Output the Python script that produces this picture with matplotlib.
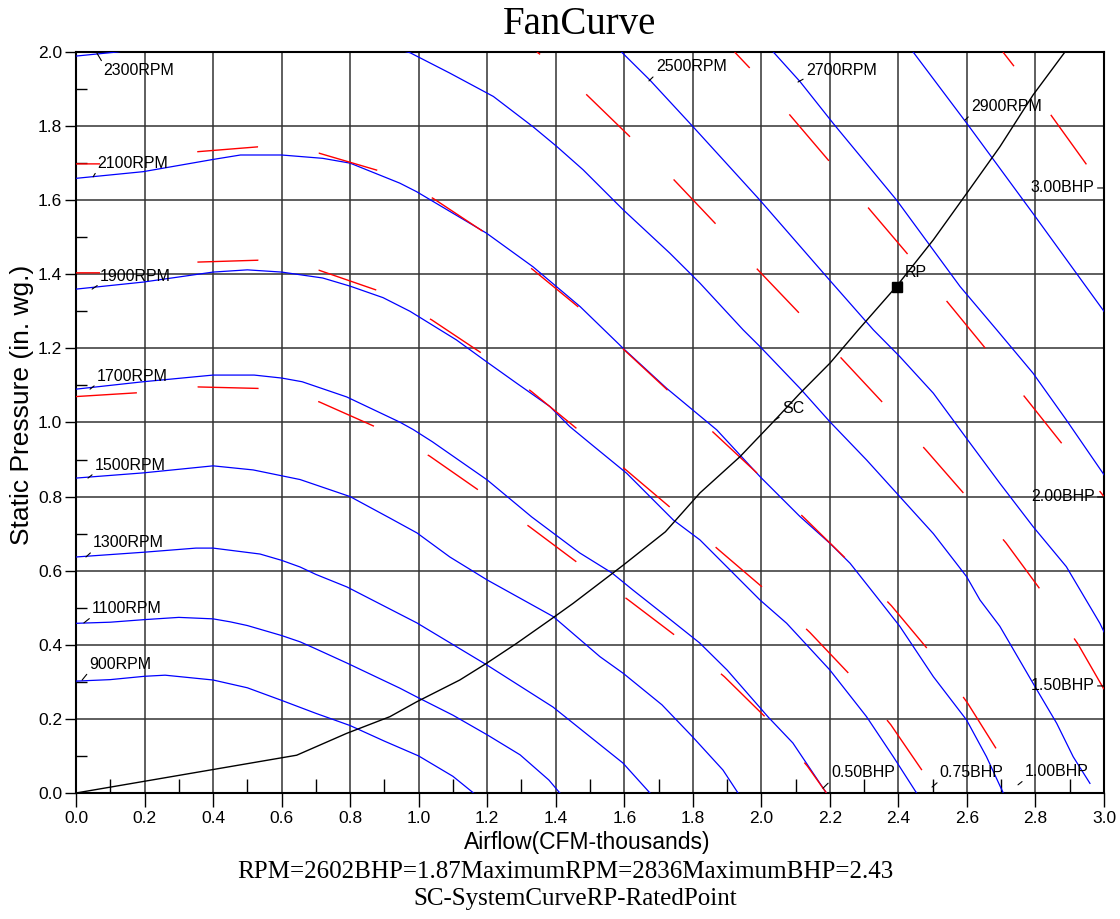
import numpy as np
import matplotlib
matplotlib.use("Agg")
import matplotlib.pyplot as plt

# ---------------- data ----------------
x_ticks = [0.0, 0.2, 0.4, 0.6, 0.8, 1.0, 1.2, 1.4, 1.6, 1.8, 2.0, 2.2, 2.4, 2.6, 2.8, 3.0]
x_tick_labels = ["0.0", "0.2", "0.4", "0.6", "0.8", "1.0", "1.2", "1.4", "1.6", "1.8",
                 "2.0", "2.2", "2.4", "2.6", "2.8", "3.0"]
x_minor = [0.1, 0.3, 0.5, 0.7, 0.9, 1.1, 1.3, 1.5, 1.7, 1.9, 2.1, 2.3, 2.5, 2.7, 2.9]
y_ticks = [0.0, 0.2, 0.4, 0.6, 0.8, 1.0, 1.2, 1.4, 1.6, 1.8, 2.0]
y_tick_labels = ["0.0", "0.2", "0.4", "0.6", "0.8", "1.0", "1.2", "1.4", "1.6", "1.8", "2.0"]
y_minor = [0.1, 0.3, 0.5, 0.7, 0.9, 1.1, 1.3, 1.5, 1.7, 1.9]

# fan curves (airflow, static pressure)
rpm900_x = [0, 0.1, 0.2, 0.26, 0.4, 0.5, 0.6, 0.7, 0.8, 0.9, 1.0, 1.1, 1.16]
rpm900_y = [0.302, 0.306, 0.315, 0.318, 0.305, 0.284, 0.250, 0.215, 0.182, 0.140, 0.100, 0.045, 0.0]

rpm1100_x = [0, 0.1, 0.2, 0.3, 0.4, 0.45, 0.5, 0.6, 0.654, 0.7, 0.79, 0.945, 0.995, 1.1, 1.2, 1.296, 1.38, 1.412]
rpm1100_y = [0.458, 0.461, 0.468, 0.474, 0.470, 0.462, 0.452, 0.425, 0.408, 0.389, 0.351, 0.283, 0.259, 0.21,
             0.157, 0.103, 0.035, 0.0]

rpm1300_x = [0, 0.2, 0.35, 0.4, 0.537, 0.6, 0.654, 0.7, 0.791, 0.995, 1.2, 1.392, 1.5, 1.596, 1.675]
rpm1300_y = [0.637, 0.650, 0.661, 0.661, 0.645, 0.628, 0.610, 0.590, 0.556, 0.459, 0.345, 0.232, 0.152, 0.081, 0.0]

rpm1500_x = [0, 0.196, 0.4, 0.517, 0.654, 0.8, 0.916, 0.995, 1.091, 1.2, 1.393, 1.529, 1.597, 1.71, 1.8, 1.888, 1.932]
rpm1500_y = [0.850, 0.864, 0.883, 0.872, 0.846, 0.800, 0.742, 0.702, 0.637, 0.575, 0.476, 0.368, 0.323, 0.238,
             0.151, 0.062, 0.0]

rpm1700_x = [0, 0.196, 0.4, 0.52, 0.6, 0.66, 0.79, 0.945, 0.984, 1.04, 1.2, 1.33, 1.47, 1.564, 1.625, 1.725,
             1.82, 1.9, 2.02, 2.092, 2.19]
rpm1700_y = [1.090, 1.110, 1.128, 1.128, 1.120, 1.110, 1.069, 1.001, 0.981, 0.948, 0.845, 0.745, 0.648, 0.594,
             0.548, 0.475, 0.405, 0.332, 0.205, 0.135, 0.0]

rpm1900_x = [0, 0.196, 0.4, 0.5, 0.6, 0.72, 0.8, 0.896, 0.975, 1.11, 1.198, 1.286, 1.383, 1.441, 1.5, 1.607,
             1.743, 1.821, 1.996, 2.074, 2.2, 2.307, 2.385, 2.453]
rpm1900_y = [1.360, 1.379, 1.406, 1.412, 1.406, 1.390, 1.368, 1.337, 1.300, 1.223, 1.164, 1.106, 1.043, 0.989,
             0.944, 0.863, 0.737, 0.683, 0.521, 0.458, 0.332, 0.206, 0.098, 0.0]

rpm2100_x = [0, 0.196, 0.4, 0.48, 0.6, 0.72, 0.8, 0.945, 0.994, 1.198, 1.334, 1.471, 1.597, 1.724, 1.87, 1.996,
             2.113, 2.2, 2.259, 2.336, 2.404, 2.502, 2.599, 2.657, 2.706]
rpm2100_y = [1.659, 1.677, 1.710, 1.722, 1.722, 1.713, 1.700, 1.646, 1.623, 1.511, 1.420, 1.313, 1.200, 1.092,
             0.980, 0.854, 0.746, 0.674, 0.620, 0.530, 0.450, 0.314, 0.197, 0.098, 0.0]

rpm2300_x = [0, 0.12, 0.3, 0.55, 0.8, 0.975, 1.091, 1.218, 1.334, 1.403, 1.48, 1.597, 1.733, 1.821, 1.947, 1.996,
             2.113, 2.2, 2.307, 2.404, 2.502, 2.599, 2.638, 2.696, 2.725, 2.793, 2.862, 2.91, 2.959]
rpm2300_y = [1.989, 2.0, 2.03, 2.065, 2.04, 1.998, 1.943, 1.880, 1.798, 1.745, 1.682, 1.574, 1.457, 1.376, 1.250,
             1.205, 1.092, 1.002, 0.899, 0.800, 0.700, 0.584, 0.521, 0.450, 0.404, 0.296, 0.188, 0.098, 0.026]

rpm2500_x = [1.592, 1.675, 1.801, 1.996, 2.19, 2.327, 2.404, 2.502, 2.599, 2.696, 2.793, 2.89, 2.988, 3.0]
rpm2500_y = [2.0, 1.924, 1.798, 1.600, 1.394, 1.250, 1.178, 1.079, 0.957, 0.836, 0.719, 0.611, 0.458, 0.435]

rpm2700_x = [2.035, 2.113, 2.21, 2.395, 2.58, 2.687, 2.793, 2.89, 3.0]
rpm2700_y = [2.0, 1.920, 1.807, 1.600, 1.367, 1.250, 1.133, 1.007, 0.859]

rpm2900_x = [2.443, 2.6, 2.793, 3.0]
rpm2900_y = [2.0, 1.807, 1.564, 1.300]

# constant BHP curves
bhp050_x = [0, 0.175, 0.356, 0.531, 0.709, 0.872, 1.031, 1.177, 1.323, 1.466, 1.612, 1.753, 1.892, 2.015, 2.134, 2.19]
bhp050_y = [1.070, 1.080, 1.096, 1.092, 1.056, 0.989, 0.910, 0.816, 0.719, 0.620, 0.521, 0.422, 0.314, 0.202,
            0.073, 0.0]

bhp075_x = [0, 0.070, 0.356, 0.531, 0.709, 0.878, 1.038, 1.184, 1.330, 1.466, 1.605, 1.739, 1.876, 2.010, 2.142,
            2.264, 2.378, 2.478, 2.51]
bhp075_y = [1.404, 1.404, 1.433, 1.438, 1.411, 1.357, 1.277, 1.187, 1.083, 0.980, 0.872, 0.767, 0.656, 0.550,
            0.433, 0.314, 0.184, 0.049, 0.0]

bhp100_x = [0, 0.070, 0.356, 0.531, 0.709, 0.882, 1.042, 1.189, 1.334, 1.471, 1.602, 1.735, 1.865, 1.996, 2.127,
            2.254, 2.380, 2.494, 2.601, 2.696, 2.77]
bhp100_y = [1.698, 1.698, 1.731, 1.744, 1.727, 1.680, 1.605, 1.515, 1.412, 1.308, 1.194, 1.080, 0.969, 0.856,
            0.741, 0.626, 0.505, 0.379, 0.244, 0.104, 0.0]

bhp150_x = [1.345, 1.357, 1.491, 1.617, 1.745, 1.870, 1.990, 2.116, 2.238, 2.358, 2.480, 2.597, 2.714, 2.819,
            2.924, 3.0]
bhp150_y = [2.0, 1.992, 1.884, 1.771, 1.655, 1.533, 1.412, 1.290, 1.169, 1.050, 0.926, 0.802, 0.675, 0.543,
            0.402, 0.28]

bhp200_x = [1.922, 1.966, 2.086, 2.203, 2.318, 2.432, 2.546, 2.663, 2.774, 2.885, 3.0]
bhp200_y = [2.0, 1.957, 1.827, 1.700, 1.573, 1.449, 1.322, 1.190, 1.063, 0.934, 0.80]

bhp300_x = [2.705, 2.737, 2.845, 2.950, 3.0]
bhp300_y = [2.0, 1.962, 1.830, 1.695, 1.633]

# system curve and rated point
sc_x = [0, 0.644, 0.79, 0.916, 0.994, 1.12, 1.198, 1.286, 1.383, 1.451, 1.597, 1.72, 1.821, 1.938, 2.035,
        2.113, 2.2, 2.283, 2.394, 2.502, 2.599, 2.696, 2.793, 2.886]
sc_y = [0, 0.102, 0.161, 0.206, 0.246, 0.305, 0.350, 0.404, 0.467, 0.512, 0.615, 0.705, 0.810, 0.908, 1.002,
        1.079, 1.160, 1.250, 1.367, 1.493, 1.618, 1.744, 1.884, 2.0]
rp_x = [2.395]
rp_y = [1.367]

rpm_labels = ["900RPM", "1100RPM", "1300RPM", "1500RPM", "1700RPM", "1900RPM", "2100RPM", "2300RPM",
              "2500RPM", "2700RPM", "2900RPM"]
bhp_labels = ["0.50BHP", "0.75BHP", "1.00BHP", "1.50BHP", "2.00BHP", "3.00BHP"]

# ---------------- figure ----------------
SANS = ["Liberation Sans", "DejaVu Sans"]
SERIF = ["Liberation Serif", "DejaVu Serif"]
plt.rcParams["font.family"] = SANS

fig = plt.figure(figsize=(11.2, 9.19), dpi=100)
ax = fig.add_axes([76 / 1120, 1 - 793 / 919, 1028 / 1120, 741 / 919])
ax.set_xlim(0, 3.0)
ax.set_ylim(0, 2.0)

ax.set_xticks(x_ticks)
ax.set_xticklabels(x_tick_labels)
ax.set_xticks(x_minor, minor=True)
ax.set_yticks(y_ticks)
ax.set_yticklabels(y_tick_labels)
ax.set_yticks(y_minor, minor=True)
ax.tick_params(axis="x", which="major", direction="out", length=10, width=1.0, pad=3, labelsize=12.5)
ax.tick_params(axis="x", which="minor", direction="in", length=10, width=1.0)
ax.tick_params(axis="y", which="major", direction="out", length=8, width=1.0, pad=2, labelsize=12.5)
ax.tick_params(axis="y", which="minor", direction="in", length=8, width=1.0)
for s in ax.spines.values():
    s.set_linewidth(1.5)
ax.grid(True, which="major", color="#333333", lw=1.1, zorder=0)
ax.set_axisbelow(True)

# fan RPM curves
rpm_curves = [(rpm900_x, rpm900_y), (rpm1100_x, rpm1100_y), (rpm1300_x, rpm1300_y), (rpm1500_x, rpm1500_y),
              (rpm1700_x, rpm1700_y), (rpm1900_x, rpm1900_y), (rpm2100_x, rpm2100_y), (rpm2300_x, rpm2300_y),
              (rpm2500_x, rpm2500_y), (rpm2700_x, rpm2700_y), (rpm2900_x, rpm2900_y)]
for cx, cy in rpm_curves:
    ax.plot(cx, cy, color="#0000ff", lw=0.9, zorder=3)

# BHP curves (dashed)
PX = 0.72  # points per pixel
on, off = 61 * PX, 61 * PX
bhp_styles = [
    (bhp050_x, bhp050_y, (0, (on, off))),
    (bhp075_x, bhp075_y, (0, [24 * PX, 98 * PX] + [on, off] * 14)),
    (bhp100_x, bhp100_y, (0, [24 * PX, 98 * PX] + [on, off] * 14)),
    (bhp150_x, bhp150_y, (57 * PX, (on, off))),
    (bhp200_x, bhp200_y, (39 * PX, (on, off))),
    (bhp300_x, bhp300_y, (43 * PX, (on, off))),
]
for bx, by, ls in bhp_styles:
    ax.plot(bx, by, color="#ff0000", lw=1.0, linestyle=ls, zorder=4)

# system curve & rated point
ax.plot(sc_x, sc_y, color="black", lw=1.0, zorder=5)
ax.plot(rp_x, rp_y, marker="s", color="black", markersize=7, linestyle="none", zorder=6)

LBL = 11.5
arrow = dict(arrowstyle="-", color="black", lw=0.8, shrinkA=0, shrinkB=0)

def lab(text, xy, xytext, relpos, ha="left"):
    a = dict(arrow)
    a["relpos"] = relpos
    ax.annotate(text, xy=xy, xytext=xytext, ha=ha, va="center", fontsize=LBL,
                arrowprops=a, zorder=7, annotation_clip=False)

# RPM labels
rpm_label_pos = [
    ((0.018, 0.305), (0.038, 0.348), (0, 0)),
    ((0.023, 0.459), (0.047, 0.497), (0, 0)),
    ((0.029, 0.637), (0.050, 0.675), (0, 0)),
    ((0.035, 0.850), (0.055, 0.885), (0, 0)),
    ((0.041, 1.090), (0.061, 1.125), (0, 0)),
    ((0.047, 1.360), (0.070, 1.395), (0, 0)),
    ((0.050, 1.663), (0.061, 1.700), (0, 0)),
    ((0.061, 1.997), (0.079, 1.949), (0, 1)),
    ((1.672, 1.922), (1.692, 1.960), (0, 0)),
    ((2.107, 1.919), (2.130, 1.951), (0, 0)),
    ((2.594, 1.816), (2.612, 1.852), (0, 0)),
]
for t, (xy, xt, rp) in zip(rpm_labels, rpm_label_pos):
    lab(t, xy, xt, rp)

# BHP labels
lab(bhp_labels[0], (2.180, 0.013), (2.203, 0.054), (0, 0))
lab(bhp_labels[1], (2.498, 0.016), (2.521, 0.054), (0, 0))
lab(bhp_labels[2], (2.749, 0.022), (2.769, 0.057), (0, 0))
lab(bhp_labels[3], (3.0, 0.289), (2.973, 0.289), (1, 0.5), ha="right")
lab(bhp_labels[4], (3.0, 0.799), (2.973, 0.799), (1, 0.5), ha="right")
lab(bhp_labels[5], (3.0, 1.633), (2.973, 1.633), (1, 0.5), ha="right")

# SC / RP
lab("SC", (2.040, 1.007), (2.060, 1.039), (0, 0))
lab("RP", (rp_x[0] + 0.004, rp_y[0] + 0.008), (2.419, 1.404), (0, 0))

# axis labels
ax.set_xlabel("Airflow(CFM-thousands)", fontsize=16.5)
ax.xaxis.set_label_coords((587 - 76) / 1028, (793 - 843) / 741)
ax.xaxis.label.set_va("center")
ax.set_ylabel("Static Pressure (in. wg.)", fontsize=19)
ax.yaxis.set_label_coords((22 - 76) / 1028, (793 - 405) / 741)
ax.yaxis.label.set_va("center")

# title & footer
fig.text(580 / 1120, 1 - 25 / 919, "FanCurve", ha="center", va="center", fontsize=28, family=SERIF)
fig.text(565 / 1120, 1 - 872 / 919, "RPM=2602BHP=1.87MaximumRPM=2836MaximumBHP=2.43",
         ha="center", va="center", fontsize=18, family=SERIF)
fig.text(575 / 1120, 1 - 899 / 919, "SC-SystemCurveRP-RatedPoint",
         ha="center", va="center", fontsize=18, family=SERIF)

fig.savefig("out.png", dpi=100, facecolor="white")
